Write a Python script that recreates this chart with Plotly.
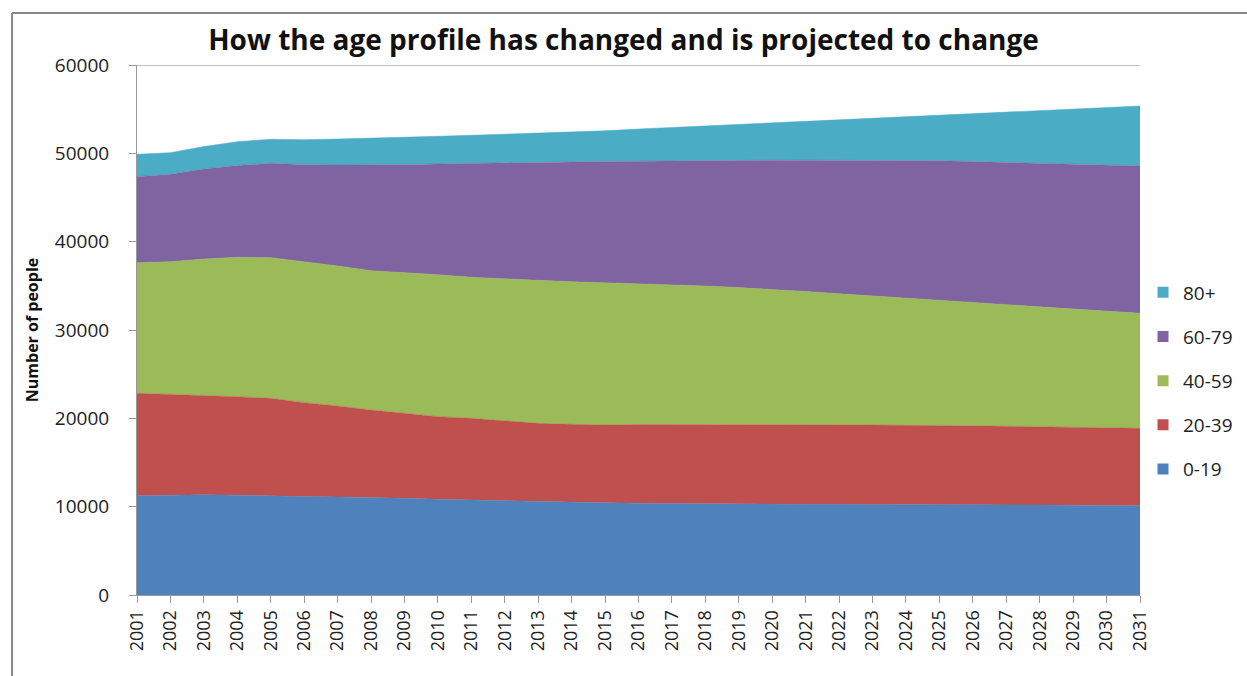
import plotly.graph_objects as go

years = list(range(2001, 2032))

age_0_19 = [11250, 11300, 11350, 11300, 11200, 11150, 11100, 11050, 10950, 10850,
            10750, 10650, 10580, 10500, 10430, 10380, 10340, 10300, 10280, 10260,
            10260, 10260, 10260, 10260, 10240, 10220, 10200, 10190, 10160, 10130, 10100]
age_20_39 = [11580, 11420, 11290, 11150, 11060, 10620, 10300, 9890, 9620, 9340,
             9250, 9050, 8850, 8820, 8820, 8910, 8960, 9000, 9010, 9020,
             9010, 9000, 8990, 8980, 8960, 8930, 8900, 8860, 8830, 8800, 8770]
age_40_59 = [14790, 15020, 15400, 15780, 15930, 15970, 15850, 15780, 15930, 16070,
             15970, 16070, 16190, 16150, 16110, 15980, 15850, 15680, 15510, 15330,
             15090, 14840, 14600, 14350, 14130, 13930, 13720, 13520, 13340, 13170, 13020]
age_60_79 = [9740, 9880, 10190, 10380, 10680, 10980, 11430, 11960, 12220, 12540,
             12900, 13170, 13360, 13590, 13720, 13830, 14000, 14200, 14400, 14610,
             14870, 15130, 15370, 15610, 15820, 15990, 16160, 16310, 16440, 16570, 16680]
age_80_plus = [2530, 2460, 2530, 2710, 2720, 2830, 2940, 3020, 3090, 3130,
               3170, 3210, 3320, 3360, 3470, 3650, 3770, 3920, 4070, 4230,
               4390, 4560, 4750, 4940, 5160, 5420, 5680, 5960, 6240, 6510, 6790]

y_ticks = [0, 10000, 20000, 30000, 40000, 50000, 60000]
y_tick_labels = ["0", "10000", "20000", "30000", "40000", "50000", "60000"]

series = [
    ("0-19", age_0_19, "#4F81BD"),
    ("20-39", age_20_39, "#C0504D"),
    ("40-59", age_40_59, "#9BBB59"),
    ("60-79", age_60_79, "#8064A2"),
    ("80+", age_80_plus, "#4BACC6"),
]

FONT = "Open Sans"

fig = go.Figure()
for name, vals, col in series:
    fig.add_trace(go.Scatter(
        x=years, y=vals, name=name, mode="lines",
        stackgroup="one", line=dict(width=0.5, color=col),
        fillcolor=col, showlegend=False,
    ))
# legend entries with square swatches (top-to-bottom: 80+ ... 0-19)
for name, vals, col in reversed(series):
    fig.add_trace(go.Scatter(
        x=[None], y=[None], name=name, mode="markers",
        marker=dict(symbol="square", size=11, color=col),
        legendgroup="leg_" + name, showlegend=True,
    ))

fig.update_layout(
    width=1247, height=676,
    margin=dict(l=137, r=107, t=65, b=81, autoexpand=False),
    paper_bgcolor="white", plot_bgcolor="white",
    font=dict(family=FONT, color="#222"),
    title=dict(text="<b>How the age profile has changed and is projected to change</b>",
               x=0.5, xanchor="center", y=0.94, yanchor="middle",
               font=dict(size=28, family=FONT, color="#111")),
    legend=dict(x=1.003, xanchor="left", y=0.404, yanchor="middle",
                traceorder="grouped", tracegroupgap=16.5,
                itemwidth=30,
                font=dict(size=19, family=FONT, color="#222"),
                bgcolor="rgba(0,0,0,0)"),
    showlegend=True,
)

fig.update_xaxes(
    range=[2001, 2031], tickmode="array", tickvals=years,
    ticktext=[str(y) for y in years], tickangle=-90,
    ticks="outside", ticklen=7, tickcolor="#999",
    showline=True, linecolor="#999", showgrid=False, zeroline=False,
    tickfont=dict(size=18, family=FONT, color="#222"),
)
fig.update_yaxes(
    range=[0, 60000], tickmode="array", tickvals=y_ticks, ticktext=y_tick_labels,
    ticks="outside", ticklen=7, tickcolor="#999", ticklabelstandoff=16,
    showline=True, linecolor="#999", showgrid=False, zeroline=False,
    tickfont=dict(size=19, family=FONT, color="#222"),
    title=dict(text="<b>Number of people</b>", standoff=12,
               font=dict(size=16, family=FONT, color="#111")),
)

# top border of plot area at 60000
fig.add_shape(type="line", xref="paper", yref="y", x0=0, x1=1, y0=60000, y1=60000,
              line=dict(color="#AAA", width=1.5))
# chart frame
fig.add_shape(type="line", xref="paper", yref="paper", x0=-0.1246, x1=1.2, y0=1.098, y1=1.098,
              line=dict(color="#888", width=2))
fig.add_shape(type="line", xref="paper", yref="paper", x0=-0.1246, x1=-0.1246, y0=-0.2, y1=1.098,
              line=dict(color="#888", width=2))

fig.write_html("out.html")
